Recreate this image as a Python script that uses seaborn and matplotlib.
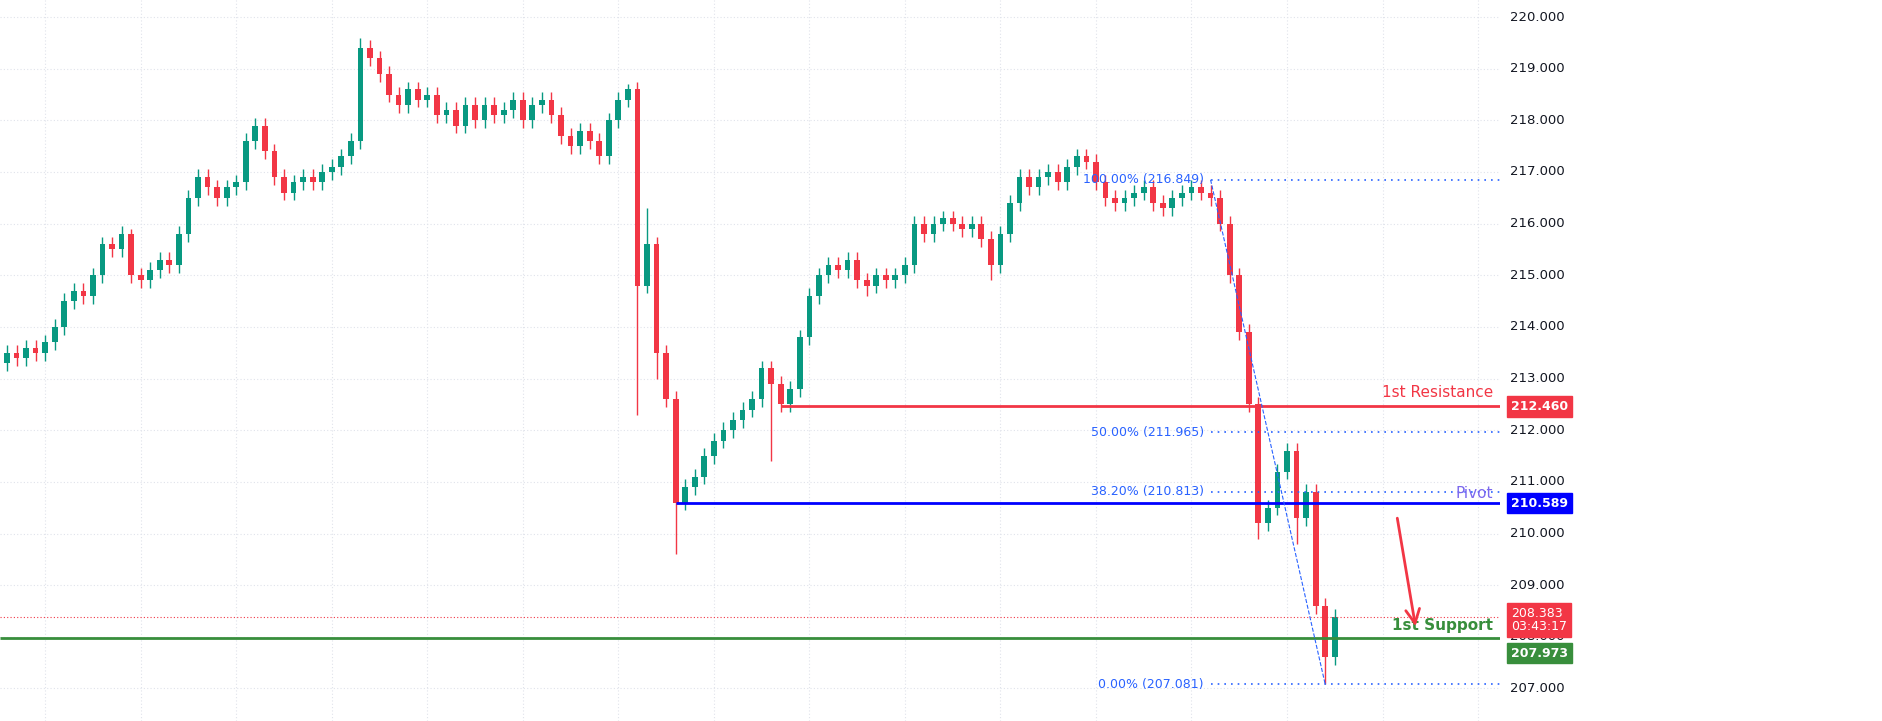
import numpy as np
import matplotlib.pyplot as plt
import seaborn as sns

# closing prices, one per candle (open = previous close)
closes = [213.5, 213.4, 213.6, 213.5, 213.7, 214.0, 214.5, 214.7, 214.6,
          215.0, 215.6, 215.5, 215.8, 215.0, 214.9, 215.1, 215.3, 215.2,
          215.8, 216.5, 216.9, 216.7, 216.5, 216.7, 216.8, 217.6, 217.9, 217.4,
          216.9, 216.6, 216.8, 216.9, 216.8, 217.0, 217.1, 217.3, 217.6, 219.4,
          219.2, 218.9, 218.5, 218.3, 218.6, 218.4, 218.5, 218.1,
          218.2, 217.9, 218.3, 218.0, 218.3, 218.1, 218.2, 218.4, 218.0, 218.3, 218.4, 218.1,
          217.7, 217.5, 217.8, 217.6, 217.3, 218.0, 218.4, 218.6, 214.8,
          215.6, 213.5, 212.6, 210.6, 210.9, 211.1, 211.5, 211.8, 212.0,
          212.2, 212.4, 212.6, 213.2, 212.9, 212.5, 212.8, 213.8, 214.6, 215.0,
          215.2, 215.1, 215.3, 214.9, 214.8, 215.0, 214.9, 215.0, 215.2,
          216.0, 215.8, 216.0, 216.1, 216.0, 215.9, 216.0, 215.7, 215.2, 215.8,
          216.4, 216.9, 216.7, 216.9, 217.0, 216.8, 217.1, 217.3, 217.2,
          216.8, 216.5, 216.4, 216.5, 216.6, 216.7, 216.4, 216.3, 216.5, 216.6, 216.7,
          216.6, 216.5, 216.0, 215.0, 213.9, 212.5, 210.2, 210.5, 211.2, 211.6,
          210.3, 210.8, 208.6, 207.6, 208.383]
first_open = 213.3
# notable long wicks: candle index -> extreme price
big_lows = {66: 212.3, 68: 213.0, 70: 209.6, 80: 211.4, 90: 214.6, 103: 214.9,
            131: 209.9, 135: 209.8, 138: 207.081}
big_highs = {13: 215.9, 37: 219.6, 67: 216.3, 65: 218.7, 112: 217.45}
wick = 0.15

resistance, pivot, support, last_price = 212.460, 210.589, 207.973, 208.383
fib_levels = [216.849, 211.965, 210.813, 207.081]
fib_labels = ["100.00% (216.849)", "50.00% (211.965)", "38.20% (210.813)", "0.00% (207.081)"]
yticks = list(range(207, 221))

sns.set_theme(style="white")
fig = plt.figure(figsize=(18.83, 7.21), dpi=100)
ax = fig.add_axes([0, 0, 1500 / 1883, 1])

n = len(closes)
opens = [first_open] + closes[:-1]
up_c, dn_c = "#089981", "#f23645"
for i in range(n):
    o, c = opens[i], closes[i]
    col = up_c if c >= o else dn_c
    hi = big_highs.get(i, max(o, c) + wick)
    lo = big_lows.get(i, min(o, c) - wick)
    ax.vlines(i, lo, hi, color=col, lw=1)
    ax.bar(i, max(abs(c - o), 0.03), bottom=min(o, c), width=0.6, color=col, lw=0)

xmin, xmax = -0.73, 156.3
ax.set_xlim(xmin, xmax)
ax.set_ylim(206.37, 220.33)
ax.set_yticks(yticks)
ax.set_xticks(np.arange(4, 156, 10))
ax.grid(True, color="#e0e3eb", ls=(0, (1, 2)), lw=0.8)
ax.tick_params(labelbottom=False, labelleft=False, length=0)
for s in ax.spines.values():
    s.set_visible(False)

# key levels
ax.hlines(resistance, 81, xmax, color="#f23645", lw=2)
ax.hlines(pivot, 70, xmax, color="#0000ff", lw=2)
ax.hlines(support, xmin, xmax, color="#388e3c", lw=2)
ax.hlines(last_price, xmin, xmax, color="#f23645", lw=0.8, ls=(0, (1, 2)))
ax.text(155.6, resistance + 0.12, "1st Resistance", color="#f23645", ha="right", va="bottom", fontsize=11)
ax.text(155.6, pivot + 0.05, "Pivot", color="#7b68ee", ha="right", va="bottom", fontsize=11)
ax.text(155.6, support + 0.1, "1st Support", color="#388e3c", ha="right", va="bottom",
        fontsize=11, fontweight="bold")

# fibonacci
for lvl, lab in zip(fib_levels, fib_labels):
    ax.hlines(lvl, 126, xmax, color="#2962ff", lw=1.2, ls=(0, (1, 3)))
    ax.text(125.3, lvl, lab, color="#2962ff", ha="right", va="center", fontsize=9)
ax.plot([126, 138], [fib_levels[0], fib_levels[3]], color="#2962ff", lw=0.8, ls="--")

# arrow
ax.annotate("", xy=(147.5, 208.15), xytext=(145.5, 210.35),
            arrowprops=dict(arrowstyle="->", color="#f23645", lw=2, mutation_scale=25))

# price axis
H = fig.bbox.height


def ypix(val):
    return ax.transData.transform((0, val))[1]


for t in yticks:
    fig.text(1510 / 1883, ypix(t) / H, f"{t:.3f}", fontsize=9.5, va="center", ha="left", color="#131722")


def price_box(val, col, text, dy=0.0, bold=True):
    fig.text(1511 / 1883, (ypix(val) + dy) / H, text, fontsize=9, va="center", ha="left",
             color="white", fontweight="bold" if bold else "normal", linespacing=1.05,
             bbox=dict(boxstyle="square,pad=0.3", fc=col, ec=col))


price_box(resistance, "#f23645", f"{resistance:.3f}")
price_box(pivot, "#0000ff", f"{pivot:.3f}")
price_box(last_price, "#f23645", f"{last_price:.3f}\n03:43:17", dy=-3, bold=False)
price_box(support, "#388e3c", f"{support:.3f}", dy=-15)

fig.savefig("out.png", dpi=100)
